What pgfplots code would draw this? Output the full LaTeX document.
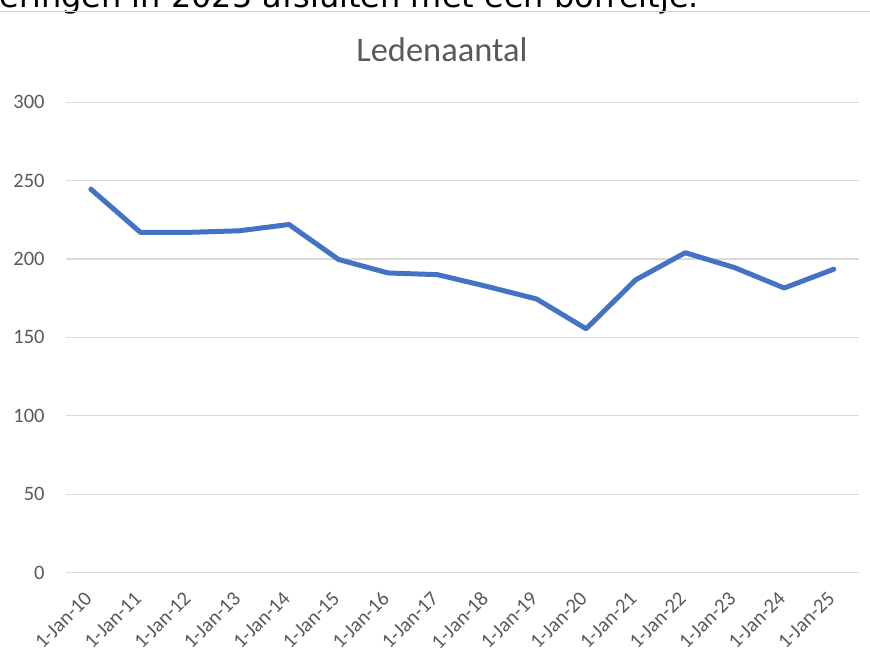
\documentclass[border=0pt]{standalone}
\usepackage{pgfplots}
\pgfplotsset{compat=1.18}
\usepackage{fontspec}
\setmainfont{Carlito}
\newfontfamily\topfont{DejaVu Sans}
\definecolor{lineblue}{HTML}{4472C4}
\definecolor{txtgray}{HTML}{595959}
\definecolor{gridgray}{HTML}{D9D9D9}
\definecolor{tickgray}{HTML}{BFBFBF}
\pgfplotstableread{
x year val
0 1-Jan-10 244.5
1 1-Jan-11 217
2 1-Jan-12 217
3 1-Jan-13 218
4 1-Jan-14 222
5 1-Jan-15 199.7
6 1-Jan-16 191.1
7 1-Jan-17 190
8 1-Jan-18 182.5
9 1-Jan-19 174.5
10 1-Jan-20 155.5
11 1-Jan-21 186.7
12 1-Jan-22 204
13 1-Jan-23 194.5
14 1-Jan-24 181.5
15 1-Jan-25 193.5
}\datatable
\begin{document}
\begin{tikzpicture}[x=1pt,y=1pt]
\begin{axis}[
  at={(65.7pt,90.7pt)}, anchor=south west,
  scale only axis, width=793.3pt, height=471pt,
  xmin=-0.5, xmax=15.5, ymin=0, ymax=300,
  ytick={0,50,...,300},
  xtick={0,...,15},
  xticklabels from table={\datatable}{year},
  minor xtick={-0.5,0.5,...,15.5},
  ymajorgrids, grid style={color=gridgray, line width=1.3pt},
  axis lines*=left,
  y axis line style={draw=none},
  x axis line style={color=gridgray, line width=1.5pt},
  tick align=outside,
  major tick length=0pt,
  minor tick length=4.5pt,
  xminorgrids=false,
  ytick style={draw=none},
  xtick style={draw=none},
  minor tick style={draw=tickgray, line width=1.2pt},
  ticklabel style={text=txtgray, font=\fontsize{20.5}{24}\selectfont},
  yticklabel style={xshift=-18pt},
  xticklabel style={xshift=0pt, yshift=-20pt, rotate=45, anchor=east},
  /pgf/number format/assume math mode=true,
  clip=false,
]
\addplot[color=lineblue, line width=5pt, line join=round, line cap=round] table[x=x, y=val] {\datatable};
\end{axis}
\path (0,0) rectangle (870,664);
\begin{scope}
\clip (0,0) rectangle (870,664);
\node[overlay, anchor=base west, inner sep=0pt, font=\topfont\fontsize{32}{36}\selectfont] at (-1,656.7) {eringen in 2025 afsluiten met een borreltje.};
\end{scope}
\draw[color=gridgray!90!gray, line width=1pt] (0,652.7) -- (870,652.7);
\node[anchor=base, inner sep=0pt, text=txtgray, font=\fontsize{34.5}{40}\selectfont] at (442,602.3) {Ledenaantal};
\end{tikzpicture}
\end{document}
